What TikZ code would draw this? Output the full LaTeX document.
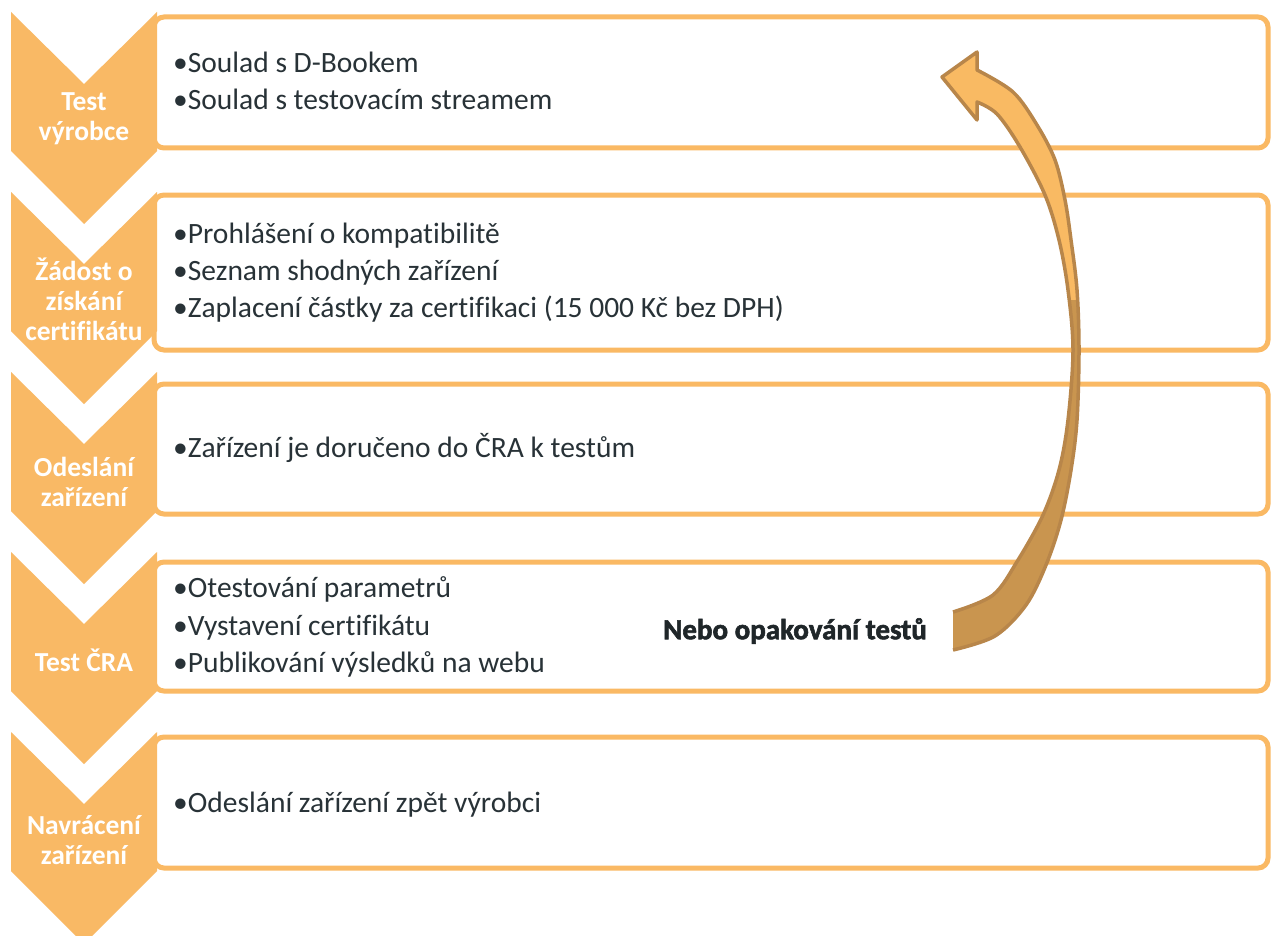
\documentclass[tikz,border=0pt]{standalone}
\usepackage{fontspec}
\setmainfont{Carlito}[Ligatures=NoCommon]
\newfontfamily\heavyfont{Carlito}[Ligatures=NoCommon,BoldFeatures={FakeBold=2}]
\definecolor{chev}{HTML}{F9B965}
\definecolor{boxline}{HTML}{FAB964}
\definecolor{txt}{HTML}{283237}
\definecolor{arrowfront}{HTML}{F9BA63}
\definecolor{arrowback}{HTML}{C9954F}
\definecolor{arrowline}{HTML}{B8864A}
\definecolor{notetxt}{HTML}{1F2629}
\tikzset{
  chevshape/.style={fill=chev},
  chevlabel/.style={text=white, font=\fontsize{27.5}{30}\selectfont\bfseries, align=center, inner sep=0pt},
  stepframe/.style={draw=boxline, line width=5pt, rounded corners=10pt, fill=white},
  itemtext/.style={text=txt, font=\fontsize{29.5}{34}\selectfont, anchor=base west, inner sep=0pt},
}
\newcommand{\chevron}[1]{%
  \fill[chevshape] (11,#1) -- (84,#1+72) -- (157,#1) -- (157,#1+139) -- (84,#1+212) -- (11,#1+139) -- cycle;}
\begin{document}
\begin{tikzpicture}[x=1pt,y=-1pt]
\useasboundingbox (0,0) rectangle (1273,936);
\fill[white] (0,0) rectangle (1273,936);
% frames
\draw[stepframe] (154,17) rectangle (1268,148);
\draw[stepframe] (154,195) rectangle (1268,350);
\draw[stepframe] (154,384) rectangle (1268,514);
\draw[stepframe] (154,562) rectangle (1268,691);
\draw[stepframe] (154,737) rectangle (1268,868);
% chevrons
\chevron{12}
\chevron{192}
\chevron{372}
\chevron{552}
\chevron{732}
% chevron labels
\node[chevlabel] (c1) at (84,119) {Test\\výrobce};
\node[chevlabel] (c2) at (84,299) {Žádost o\\získání\\certifikátu};
\node[chevlabel] (c3) at (84,482) {Odeslání\\zařízení};
\node[chevlabel] (c4) at (84,660) {Test ČRA};
\node[chevlabel] (c5) at (84,840) {Navrácení\\zařízení};
% items
\node[itemtext] (i1a) at (173,73) {•Soulad s D-Bookem};
\node[itemtext] (i1b) at (173,110) {•Soulad s testovacím streamem};
\node[itemtext] (i2a) at (173,243) {•Prohlášení o kompatibilitě};
\node[itemtext] (i2b) at (173,280) {•Seznam shodných zařízení};
\node[itemtext] (i2c) at (173,317) {•Zaplacení částky za certifikaci (15 000 Kč bez DPH)};
\node[itemtext] (i3a) at (173,457) {•Zařízení je doručeno do ČRA k testům};
\node[itemtext] (i4a) at (173,597) {•Otestování parametrů};
\node[itemtext] (i4b) at (173,635) {•Vystavení certifikátu};
\node[itemtext] (i4c) at (173,672) {•Publikování výsledků na webu};
\node[itemtext] (i5a) at (173,812) {•Odeslání zařízení zpět výrobci};
% curved arrow
\def\arrowpath{(953,650) -- plot[smooth,tension=0.55] coordinates {(953,650) (995,636) (1026,605) (1046,565) (1061,520) (1071,470) (1077,420) (1079,350) (1077,290) (1071,240) (1065,200) (1055,160) (1037,125) (1013,92) (977,70)} -- (977,52) -- (942,77) -- (977,120) -- plot[smooth,tension=0.55] coordinates {(977,102) (997,114) (1020,147) (1045,195) (1059,240) (1068,290) (1073,350) (1068,420) (1059,470) (1043,515) (1018,560) (993,595) (953,612)}}
\fill[arrowfront] \arrowpath -- cycle;
\begin{scope}
  \clip (900,300) rectangle (1100,700);
  \fill[arrowback] \arrowpath -- cycle;
\end{scope}
\draw[arrowline, line width=3.5pt, line join=round] \arrowpath;
\node[text=notetxt, font=\heavyfont\fontsize{29}{32}\selectfont\bfseries, inner sep=0pt] (note) at (795,631) {Nebo opakování testů};
\end{tikzpicture}
\end{document}
